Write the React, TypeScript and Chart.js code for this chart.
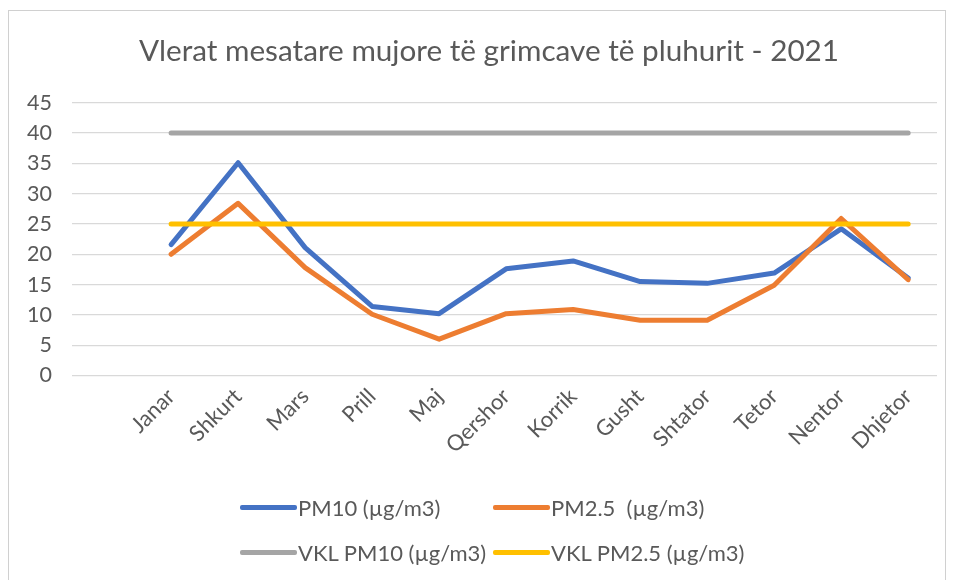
import React, { useEffect, useRef } from "react";
import { Chart, registerables } from "chart.js";

Chart.register(...registerables);

const TITLE = "Vlerat mesatare mujore të grimcave të pluhurit - 2021";
const MONTHS = ["Janar", "Shkurt", "Mars", "Prill", "Maj", "Qershor", "Korrik", "Gusht", "Shtator", "Tetor", "Nentor", "Dhjetor"];
const PM10 = [21.6, 35.1, 21.1, 11.4, 10.2, 17.6, 18.9, 15.5, 15.2, 16.9, 24.2, 16.1];
const PM25 = [20.0, 28.4, 17.8, 10.1, 6.0, 10.2, 10.9, 9.1, 9.1, 14.9, 25.9, 15.8];
const VKL_PM10 = [40, 40, 40, 40, 40, 40, 40, 40, 40, 40, 40, 40];
const VKL_PM25 = [25, 25, 25, 25, 25, 25, 25, 25, 25, 25, 25, 25];
const Y_TICKS = [0, 5, 10, 15, 20, 25, 30, 35, 40, 45];
const SERIES_LABELS = ["PM10 (µg/m3)", "PM2.5  (µg/m3)", "VKL PM10 (µg/m3)", "VKL PM2.5 (µg/m3)"];
const SERIES_COLORS = ["#4472C4", "#ED7D31", "#A5A5A5", "#FFC000"];

const FONT = "Lato, 'Noto Sans', sans-serif";
const TEXT_COLOR = "#595959";

const toPoints = (arr: number[]) => arr.map((v, i) => ({ x: i, y: v }));

export default function App() {
  const canvasRef = useRef<HTMLCanvasElement | null>(null);

  useEffect(() => {
    if (!canvasRef.current) return;
    const series = [PM10, PM25, VKL_PM10, VKL_PM25];
    const chart = new Chart(canvasRef.current, {
      type: "line",
      data: {
        datasets: series.map((s, i) => ({
          label: SERIES_LABELS[i],
          data: toPoints(s),
          borderColor: SERIES_COLORS[i],
          backgroundColor: SERIES_COLORS[i],
          borderWidth: 5,
          pointRadius: 0,
          tension: 0,
          borderJoinStyle: "round" as const,
          borderCapStyle: "round" as const,
          order: 4 - i,
        })),
      },
      options: {
        animation: false,
        responsive: false,
        events: [],
        layout: { padding: { left: 7, right: 16, top: 102.7, bottom: 84.5 } },
        plugins: {
          legend: { display: false },
          tooltip: { enabled: false },
          title: { display: false },
        },
        scales: {
          x: {
            type: "linear",
            min: -1.48,
            max: 11.43,
            grid: { display: false },
            border: { display: false },
            afterBuildTicks: (s: any) => {
              s.ticks = MONTHS.map((_, i) => ({ value: i }));
            },
            afterFit: (s: any) => {
              s.height = 120;
            },
            ticks: {
              autoSkip: false,
              minRotation: 45,
              maxRotation: 45,
              padding: 0,
              color: TEXT_COLOR,
              font: { family: FONT, size: 22 },
              callback: (v: any) => MONTHS[v as number] ?? "",
            },
          },
          y: {
            min: 0,
            max: 45,
            afterBuildTicks: (s: any) => {
              s.ticks = Y_TICKS.map((v) => ({ value: v }));
            },
            grid: { color: "#d9d9d9", lineWidth: 1.2, drawTicks: false },
            border: { display: false },
            ticks: {
              padding: 20,
              color: TEXT_COLOR,
              font: { family: FONT, size: 21.5 },
            },
          },
        },
      },
    });
    return () => chart.destroy();
  }, []);

  const legendPos = [
    { left: 240, top: 507 },
    { left: 493, top: 507 },
    { left: 240, top: 552 },
    { left: 493, top: 552 },
  ];

  return (
    <div style={{ position: "absolute", left: 0, top: 0, width: 953, height: 580, overflow: "hidden", background: "#fff" }}>
      <div style={{ position: "absolute", left: 8, top: 10, width: 936, height: 620, border: "1px solid #d0d0d0" }} />
      <canvas ref={canvasRef} width={953} height={580} style={{ position: "absolute", left: 0, top: 0, display: "block" }} />
      <div
        style={{
          position: "absolute",
          left: 489 - 400,
          width: 800,
          top: 32,
          height: 36,
          lineHeight: "36px",
          textAlign: "center",
          fontFamily: FONT,
          fontSize: 29.7,
          color: TEXT_COLOR,
          whiteSpace: "pre",
        }}
      >
        {TITLE}
      </div>
      {SERIES_LABELS.map((lbl, i) => (
        <div
          key={lbl}
          style={{
            position: "absolute",
            left: legendPos[i].left,
            top: legendPos[i].top - 15,
            height: 30,
            display: "flex",
            alignItems: "center",
            fontFamily: FONT,
            fontSize: 22,
            color: TEXT_COLOR,
            whiteSpace: "pre",
          }}
        >
          <span style={{ display: "inline-block", width: 57, height: 5, borderRadius: 2, background: SERIES_COLORS[i] }} />
          <span style={{ marginLeft: 1 }}>{lbl}</span>
        </div>
      ))}
    </div>
  );
}
